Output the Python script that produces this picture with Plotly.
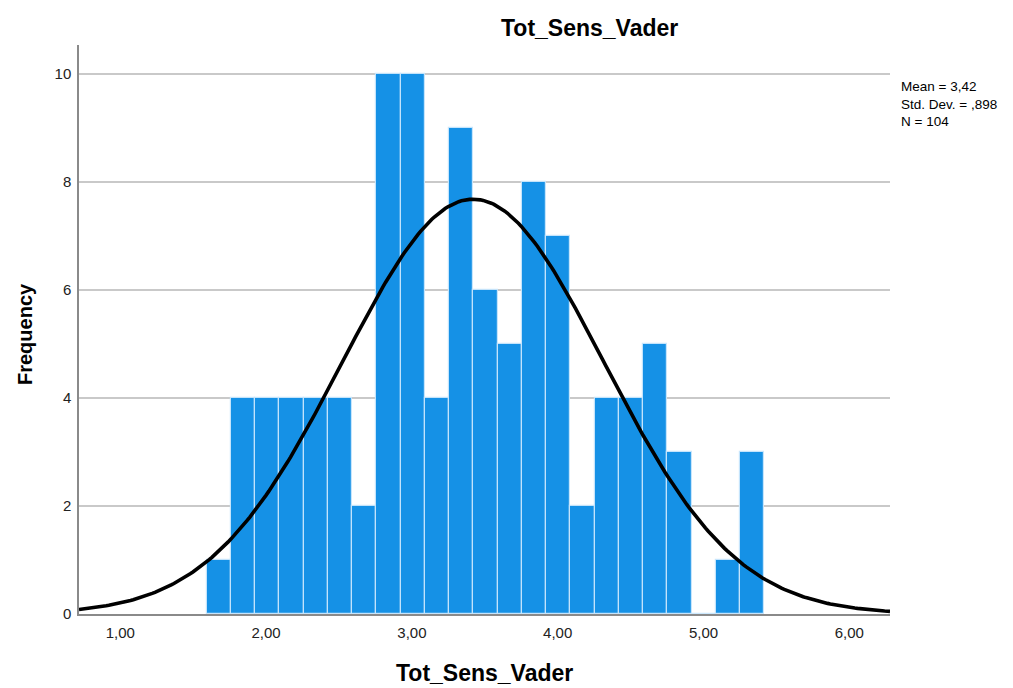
import numpy as np
import plotly.graph_objects as go

# ---- data ----
counts = [1, 4, 4, 4, 4, 4, 2, 10, 10, 4, 9, 6, 5, 8, 7, 2, 4, 4, 5, 3, 0, 1, 3]
bin_start = 1.592
bin_width = 0.1663
mean_val = 3.42
sd_val = 0.898
n_val = 104

x_tick_vals = [1, 2, 3, 4, 5, 6]
x_tick_text = ["1,00", "2,00", "3,00", "4,00", "5,00", "6,00"]
y_tick_vals = [0, 2, 4, 6, 8, 10]
y_tick_text = ["0", "2", "4", "6", "8", "10"]

title_text = "Tot_Sens_Vader"
x_title = "Tot_Sens_Vader"
y_title = "Frequency"
stats_lines = ["Mean = 3,42", "Std. Dev. = ,898", "N = 104"]

x_range = [0.717, 6.279]
y_range = [0, 10.54]

# ---- derived ----
bin_centers = [bin_start + (i + 0.5) * bin_width for i in range(len(counts))]
curve_x = np.linspace(x_range[0], x_range[1], 300)
curve_y = n_val * bin_width * np.exp(-0.5 * ((curve_x - mean_val) / sd_val) ** 2) / (sd_val * np.sqrt(2 * np.pi))

FONT = "Liberation Sans, Arial, sans-serif"

fig = go.Figure()
fig.add_trace(go.Bar(
    x=bin_centers, y=counts, width=bin_width,
    marker=dict(color="#1591E6", line=dict(color="rgba(200,230,252,0.95)", width=1.2)),
    hoverinfo="x+y", showlegend=False,
))
fig.add_trace(go.Scatter(
    x=curve_x, y=curve_y, mode="lines",
    line=dict(color="black", width=3.6), showlegend=False, hoverinfo="skip",
))

fig.update_layout(
    width=1013, height=688,
    margin=dict(l=71, r=131, t=37, b=82, pad=0),
    plot_bgcolor="white", paper_bgcolor="white",
    bargap=0,
    font=dict(family=FONT, color="#222222", size=14),
    xaxis=dict(
        range=x_range, tickvals=x_tick_vals, ticktext=x_tick_text,
        showgrid=False, zeroline=False,
        showline=True, linecolor="#8a8a8a", linewidth=1.5,
        ticks="outside", ticklen=4, tickcolor="rgba(0,0,0,0)",
        tickfont=dict(size=15, color="#222222"),
    ),
    yaxis=dict(
        range=y_range, tickvals=y_tick_vals, ticktext=y_tick_text,
        showgrid=True, gridcolor="#c9c9c9", gridwidth=1.5,
        zeroline=False,
        showline=True, linecolor="#8a8a8a", linewidth=1.5,
        ticks="outside", ticklen=3, tickcolor="rgba(0,0,0,0)",
        tickfont=dict(size=15, color="#222222"),
    ),
)

fig.add_annotation(text=f"<b>{title_text}</b>", xref="paper", yref="paper",
                   x=(589 - 79) / 811, y=(614 - 28) / 569, xanchor="center", yanchor="middle",
                   showarrow=False, font=dict(size=23, color="black", family=FONT))
fig.add_annotation(text=f"<b>{x_title}</b>", xref="paper", yref="paper",
                   x=0.5, y=(614 - 673) / 569, xanchor="center", yanchor="middle",
                   showarrow=False, font=dict(size=23, color="black", family=FONT))
fig.add_annotation(text=f"<b>{y_title}</b>", xref="paper", yref="paper",
                   x=(25 - 79) / 811, y=(614 - 334) / 569, xanchor="center", yanchor="middle",
                   textangle=-90, showarrow=False, font=dict(size=20, color="black", family=FONT))
fig.add_annotation(text="<br>".join(stats_lines), xref="paper", yref="paper",
                   x=(899 - 79) / 811, y=(614 - 77) / 569, xanchor="left", yanchor="top",
                   align="left", showarrow=False, font=dict(size=13.5, color="black", family=FONT))

fig.write_html("out.html")
